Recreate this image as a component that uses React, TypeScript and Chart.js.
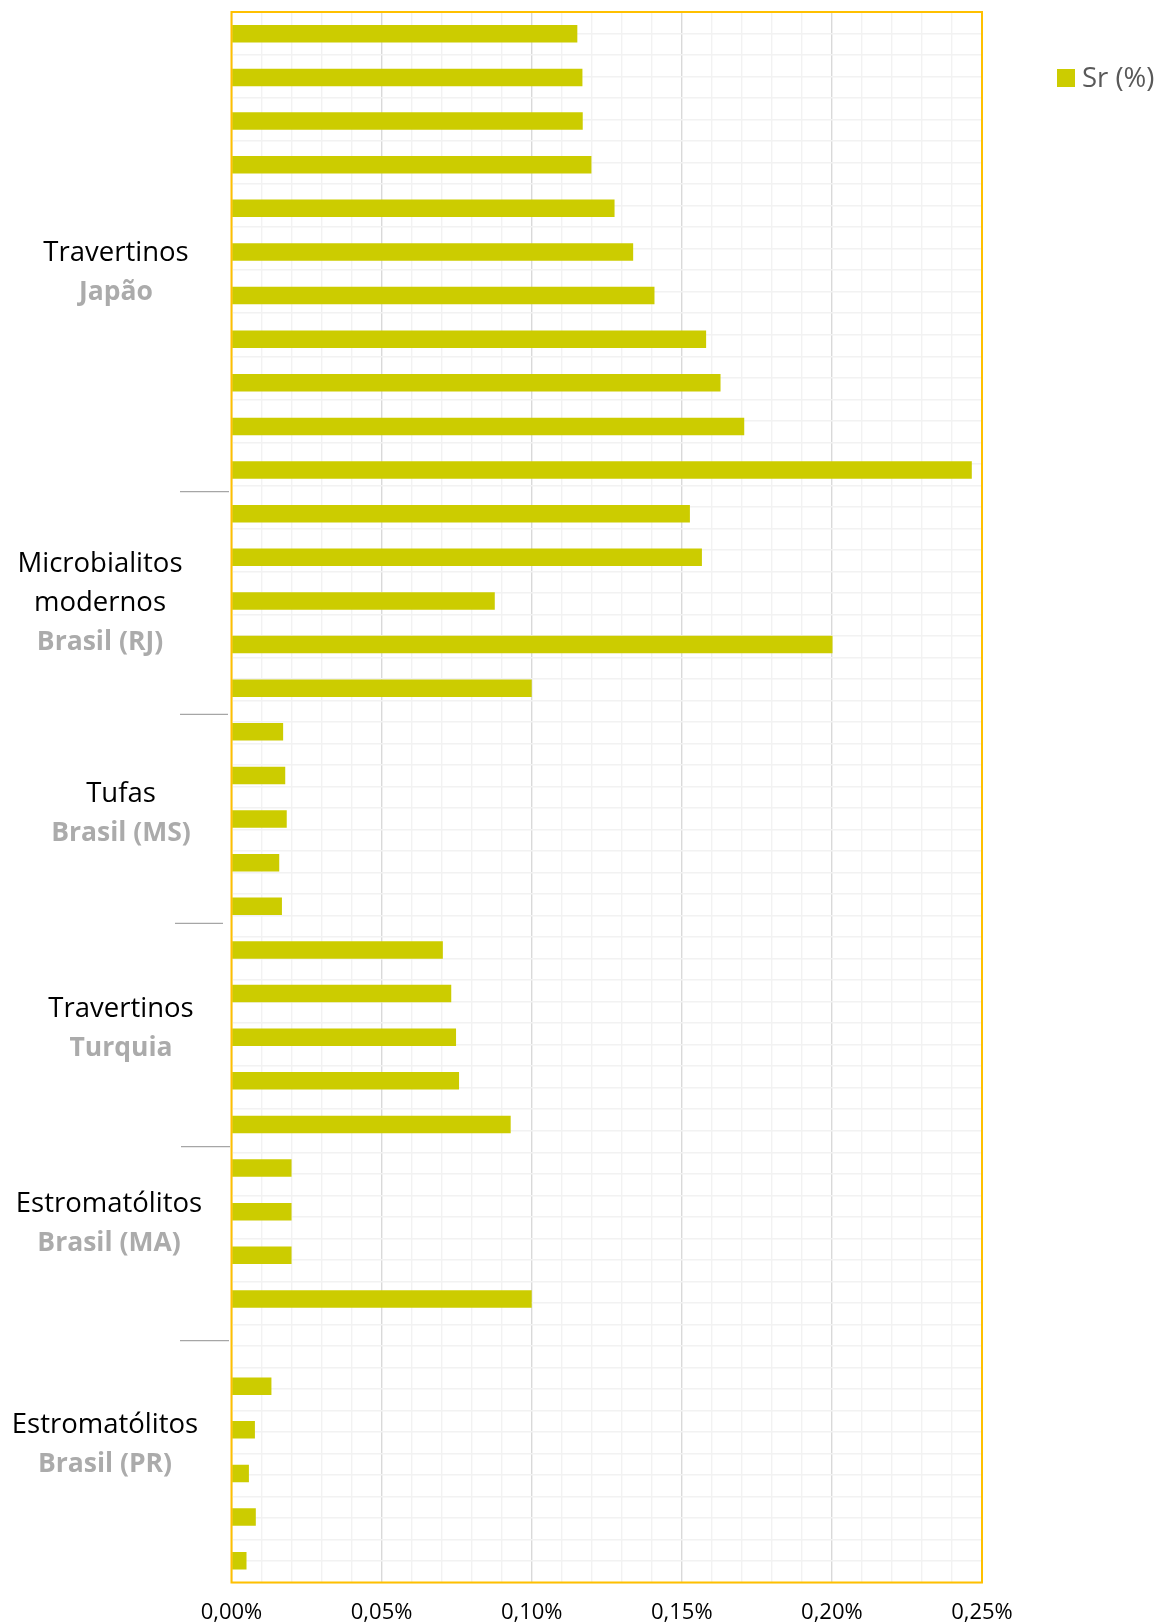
import React, { useEffect, useRef } from 'react';
import { Chart, registerables } from 'chart.js';

Chart.register(...registerables);

// ---- data ----
const groupTitles = [['Travertinos'], ['Microbialitos', 'modernos'], ['Tufas'], ['Travertinos'], ['Estromatólitos'], ['Estromatólitos']];
const groupRegions = ['Japão', 'Brasil (RJ)', 'Brasil (MS)', 'Turquia', 'Brasil (MA)', 'Brasil (PR)'];

const srJapao = [0.1152, 0.1169, 0.1170, 0.1199, 0.1276, 0.1338, 0.1409, 0.1581, 0.1629, 0.1708, 0.2466];
const srBrasilRJ = [0.1527, 0.1567, 0.0877, 0.2002, 0.1000];
const srBrasilMS = [0.0172, 0.0179, 0.0184, 0.0159, 0.0168];
const srTurquia = [0.0704, 0.0732, 0.0748, 0.0758, 0.0930];
const srBrasilMA = [0.0200, 0.0200, 0.0200, 0.1000, null];
const srBrasilPR = [0.0133, 0.0078, 0.0058, 0.0081, 0.0050];

const seriesName = 'Sr (%)';
const xMin = 0;
const xMax = 0.25;
const xMinorStep = 0.01;
const xMajorEvery = 5;

const groupValues = [srJapao, srBrasilRJ, srBrasilMS, srTurquia, srBrasilMA, srBrasilPR];

// ---- layout (pixels) ----
const W = 1161;
const H = 1624;
const PLOT_LEFT = 231.5;
const PLOT_TOP = 12;
const PLOT_RIGHT = 982;
const PLOT_BOTTOM = 1582.5;
const labelCenters = [116, 100, 121, 121, 109, 105];
const labelFirstLineY = [253.5, 564, 794, 1009, 1204, 1425];
const LINE_GAP = 39;
const dividerLines = [
  [180, 229, 491.7],
  [180, 228, 714.3],
  [175, 223, 923.3],
  [181, 230, 1146.7],
  [180, 229, 1340.7],
];
const FONT = '"Open Sans", Lato, sans-serif';
const BAR_COLOR = '#CCCC00';

const labels: string[] = [];
const values: (number | null)[] = [];
groupValues.forEach((arr, gi) => {
  arr.forEach((v, i) => {
    labels.push(groupRegions[gi] + ' ' + (i + 1));
    values.push(v);
  });
});

const overlayPlugin = {
  id: 'overlay',
  afterDraw(chart: any) {
    const { ctx, chartArea: a } = chart;
    ctx.save();
    // plot border
    ctx.strokeStyle = '#FFC000';
    ctx.lineWidth = 2;
    ctx.strokeRect(a.left, a.top, a.right - a.left, a.bottom - a.top);

    // group dividers
    ctx.strokeStyle = '#A6A6A6';
    ctx.lineWidth = 1.3;
    dividerLines.forEach(([x1, x2, y]) => {
      ctx.beginPath();
      ctx.moveTo(x1, y);
      ctx.lineTo(x2, y);
      ctx.stroke();
    });

    // group labels
    ctx.textAlign = 'center';
    ctx.textBaseline = 'middle';
    groupTitles.forEach((lines, gi) => {
      let y = labelFirstLineY[gi];
      const cx = labelCenters[gi];
      ctx.font = '27.5px ' + FONT;
      ctx.fillStyle = '#000000';
      lines.forEach((t) => {
        ctx.fillText(t, cx, y);
        y += LINE_GAP;
      });
      ctx.font = 'bold 26.5px ' + FONT;
      ctx.fillStyle = '#ABABAB';
      ctx.fillText(groupRegions[gi], cx, y);
    });

    // legend
    ctx.fillStyle = BAR_COLOR;
    ctx.fillRect(1057, 69, 18, 18);
    ctx.fillStyle = '#595959';
    ctx.font = '27.5px ' + FONT;
    ctx.textAlign = 'left';
    ctx.textBaseline = 'middle';
    ctx.fillText(seriesName, 1082, 79);
    ctx.restore();
  },
};

export default function App() {
  const ref = useRef<HTMLCanvasElement>(null);
  useEffect(() => {
    if (!ref.current) return;
    const chart = new Chart(ref.current, {
      type: 'bar',
      data: {
        labels,
        datasets: [
          {
            label: seriesName,
            data: values,
            backgroundColor: BAR_COLOR,
            borderWidth: 0,
            barPercentage: 0.4,
            categoryPercentage: 1,
            yAxisID: 'y',
            xAxisID: 'x',
          },
        ],
      },
      options: {
        indexAxis: 'y',
        responsive: false,
        animation: false,
        layout: { padding: { left: PLOT_LEFT, top: PLOT_TOP, right: W - PLOT_RIGHT, bottom: 0 } },
        plugins: { legend: { display: false }, tooltip: { enabled: false } },
        scales: {
          x: {
            type: 'linear',
            position: 'bottom',
            min: xMin,
            max: xMax,
            afterFit: (s: any) => { s.height = H - PLOT_BOTTOM; },
            border: { display: false },
            grid: {
              drawTicks: false,
              lineWidth: 1.4,
              color: (c: any) => {
                const v = c.tick ? c.tick.value : 0;
                return Math.round(v / xMinorStep) % xMajorEvery === 0 ? '#D9D9D9' : '#F2F2F2';
              },
            },
            ticks: {
              stepSize: xMinorStep,
              autoSkip: false,
              maxRotation: 0,
              minRotation: 0,
              padding: 17,
              color: '#000000',
              font: { family: FONT, size: 22 },
              callback: (v: any) => {
                const n = Number(v);
                if (Math.round(n / xMinorStep) % xMajorEvery !== 0) return '';
                return n.toFixed(2).replace('.', ',') + '%';
              },
            },
          },
          y: {
            type: 'category',
            display: false,
            offset: true,
          },
          yGrid: {
            type: 'linear',
            position: 'left',
            min: 0,
            max: labels.length * 2,
            afterFit: (s: any) => { s.width = 0; },
            border: { display: false },
            grid: { drawTicks: false, color: '#F2F2F2', lineWidth: 1.4 },
            ticks: { display: false, stepSize: 1 },
          },
        },
      } as any,
      plugins: [overlayPlugin],
    });
    return () => chart.destroy();
  }, []);
  return (
    <div style={{ position: 'absolute', left: 0, top: 0, width: W, height: H, background: '#ffffff' }}>
      <canvas ref={ref} width={W} height={H} style={{ display: 'block' }} />
    </div>
  );
}
